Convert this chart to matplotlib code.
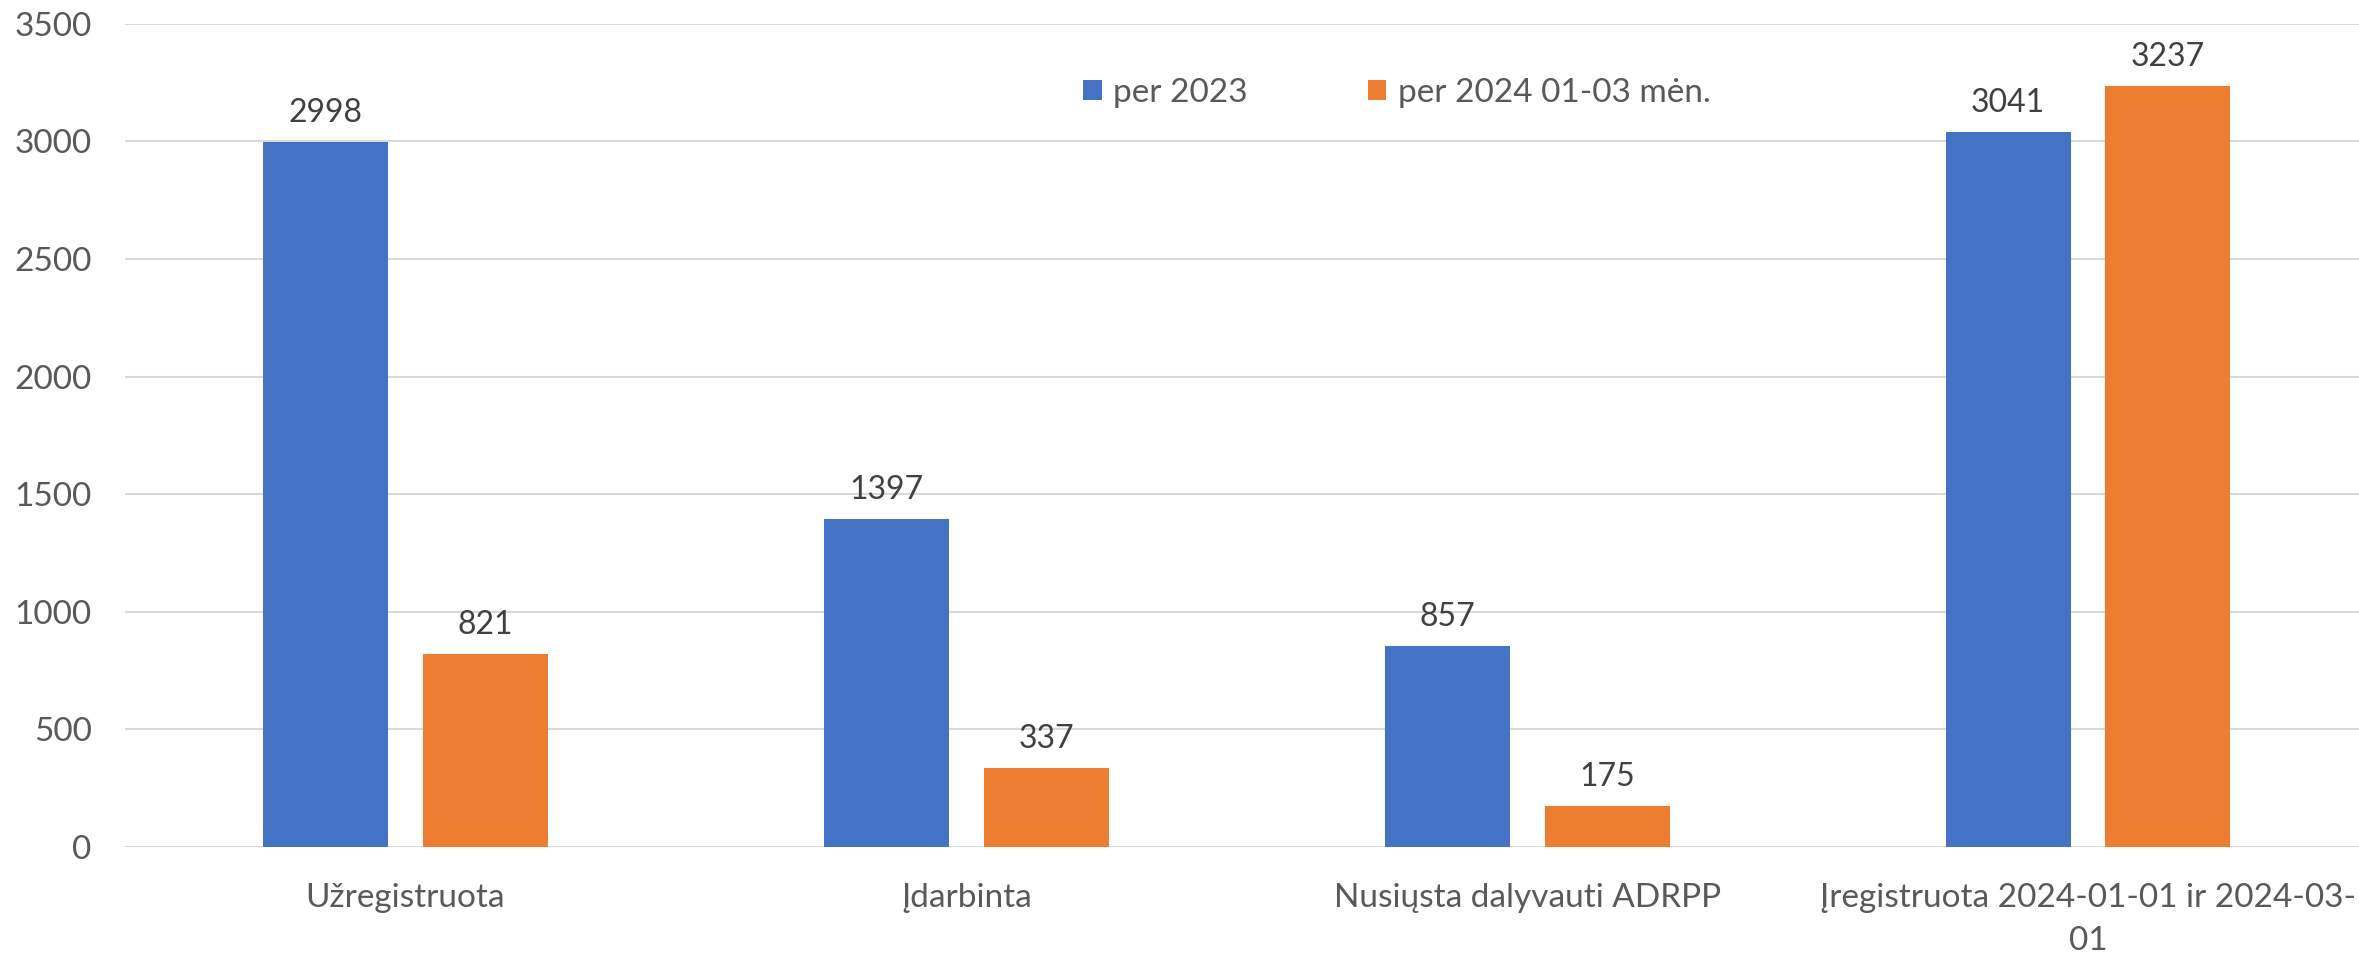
import numpy as np
import matplotlib.pyplot as plt

# data
categories = ["Užregistruota", "Įdarbinta", "Nusiųsta dalyvauti ADRPP",
              "Įregistruota 2024-01-01 ir 2024-03-\n01"]
series_names = ["per 2023", "per 2024 01-03 mėn."]
vals_2023 = [2998, 1397, 857, 3041]
vals_2024 = [821, 337, 175, 3237]

blue = "#4472C4"
orange = "#ED7D31"
txt = "#595959"

plt.rcParams['font.family'] = ['Lato', 'DejaVu Sans']

fig = plt.figure(figsize=(23.59, 9.55), dpi=100)
ax = fig.add_axes([0.053, 0.113, 0.951, 0.862])

x = np.arange(len(categories))
w = 0.223
off = 0.1425

b1 = ax.bar(x - off, vals_2023, w, color=blue, label=series_names[0], zorder=3)
b2 = ax.bar(x + off, vals_2024, w, color=orange, label=series_names[1], zorder=3)

for bars in (b1, b2):
    for r in bars:
        ax.annotate(f"{int(r.get_height())}", (r.get_x() + r.get_width() / 2, r.get_height()),
                    xytext=(0, 10), textcoords="offset points", ha="center", va="bottom",
                    fontsize=23, color="#404040")

ax.set_xlim(-0.5, 3.5)
ax.set_ylim(0, 3500)
ax.set_yticks(np.arange(0, 3501, 500))
ax.set_xticks(x)
ax.set_xticklabels(categories, linespacing=1.55)
ax.tick_params(axis='both', length=0, labelsize=24, colors=txt)
ax.tick_params(axis='y', pad=24)
ax.tick_params(axis='x', pad=26)

ax.grid(axis='y', color="#D9D9D9", linewidth=1.5, zorder=0)
for s in ax.spines.values():
    s.set_visible(False)

ax.legend(loc='center', bbox_to_anchor=(0.567, 0.916), ncol=2, frameon=False,
          fontsize=24, labelcolor=txt, handlelength=0.55, handleheight=0.55,
          handletextpad=0.35, columnspacing=3.6)

fig.savefig("out.png", dpi=100)
